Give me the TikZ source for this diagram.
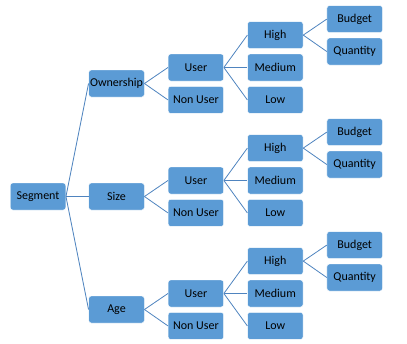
\documentclass[tikz,border=0pt]{standalone}
\usepackage{fontspec}
\setmainfont{Carlito}
\usepackage{xcolor}
\usepackage{tikz}
\usetikzlibrary{positioning}
\definecolor{boxblue}{HTML}{5B9BD5}
\definecolor{linkblue}{HTML}{4F84BF}
\tikzset{
  seg/.style={rectangle, rounded corners=2.5pt, draw=white, thin,
    fill=boxblue, minimum width=55.5pt, minimum height=27pt,
    inner sep=0pt, font=\fontsize{12}{14}\selectfont, text=black},
  link/.style={linkblue, line width=0.8pt},
}

\begin{document}
\begin{tikzpicture}[node distance=5pt and 23.5pt]
\useasboundingbox (0pt,0pt) rectangle (407pt,-343pt);
\node[seg] (segment) at (38pt,-196.5pt) {Segment};
\node[seg] (own) at (116.5pt,-83.5pt) {Ownership};
\node[seg] (size) at (116.5pt,-196.5pt) {Size};
\node[seg] (age) at (116.5pt,-309.5pt) {Age};

% ownership branch
\node[seg, right=of own, yshift=16pt] (ownuser) {User};
\node[seg, below=of ownuser] (ownnonuser) {Non User};
\node[seg, right=of ownuser] (ownmedium) {Medium};
\node[seg, above=of ownmedium] (ownhigh) {High};
\node[seg, below=of ownmedium] (ownlow) {Low};
\node[seg, right=of ownhigh, yshift=16pt] (ownbudget) {Budget};
\node[seg, below=of ownbudget] (ownquantity) {Quantity};

% size branch
\node[seg, right=of size, yshift=16pt] (sizeuser) {User};
\node[seg, below=of sizeuser] (sizenonuser) {Non User};
\node[seg, right=of sizeuser] (sizemedium) {Medium};
\node[seg, above=of sizemedium] (sizehigh) {High};
\node[seg, below=of sizemedium] (sizelow) {Low};
\node[seg, right=of sizehigh, yshift=16pt] (sizebudget) {Budget};
\node[seg, below=of sizebudget] (sizequantity) {Quantity};

% age branch
\node[seg, right=of age, yshift=16pt] (ageuser) {User};
\node[seg, below=of ageuser] (agenonuser) {Non User};
\node[seg, right=of ageuser] (agemedium) {Medium};
\node[seg, above=of agemedium] (agehigh) {High};
\node[seg, below=of agemedium] (agelow) {Low};
\node[seg, right=of agehigh, yshift=16pt] (agebudget) {Budget};
\node[seg, below=of agebudget] (agequantity) {Quantity};

\draw[link] (segment.east) -- (own.west);
\draw[link] (segment.east) -- (size.west);
\draw[link] (segment.east) -- (age.west);

\draw[link] (own.east) -- (ownuser.west);
\draw[link] (own.east) -- (ownnonuser.west);
\draw[link] (ownuser.east) -- (ownhigh.west);
\draw[link] (ownuser.east) -- (ownmedium.west);
\draw[link] (ownuser.east) -- (ownlow.west);
\draw[link] (ownhigh.east) -- (ownbudget.west);
\draw[link] (ownhigh.east) -- (ownquantity.west);

\draw[link] (size.east) -- (sizeuser.west);
\draw[link] (size.east) -- (sizenonuser.west);
\draw[link] (sizeuser.east) -- (sizehigh.west);
\draw[link] (sizeuser.east) -- (sizemedium.west);
\draw[link] (sizeuser.east) -- (sizelow.west);
\draw[link] (sizehigh.east) -- (sizebudget.west);
\draw[link] (sizehigh.east) -- (sizequantity.west);

\draw[link] (age.east) -- (ageuser.west);
\draw[link] (age.east) -- (agenonuser.west);
\draw[link] (ageuser.east) -- (agehigh.west);
\draw[link] (ageuser.east) -- (agemedium.west);
\draw[link] (ageuser.east) -- (agelow.west);
\draw[link] (agehigh.east) -- (agebudget.west);
\draw[link] (agehigh.east) -- (agequantity.west);
\end{tikzpicture}
\end{document}
